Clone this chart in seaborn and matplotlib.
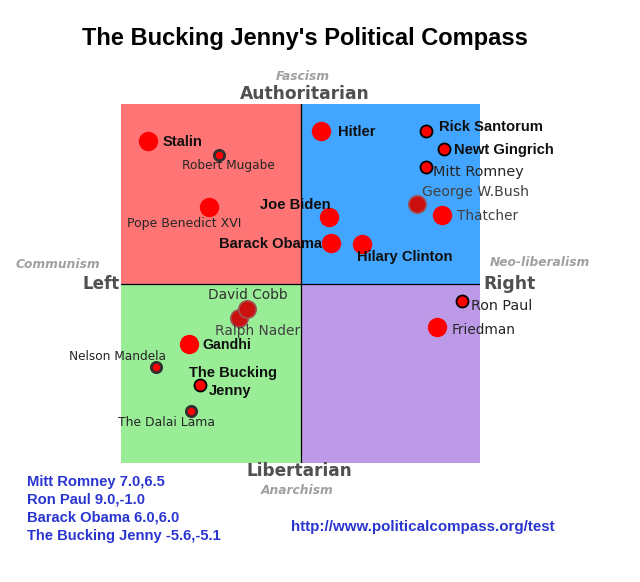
import pandas as pd
import matplotlib.pyplot as plt
import seaborn as sns

plain_names = ['Stalin', 'Pope Benedict XVI', 'Hitler', 'Joe Biden', 'Barack Obama', 'Hilary Clinton', 'Thatcher', 'Friedman', 'Gandhi']
plain_x = [-8.5, -5.1, 1.15, 1.6, 1.7, 3.4, 7.9, 7.6, -6.2]
plain_y = [7.95, 4.25, 8.5, 3.7, 2.25, 2.2, 3.8, -2.4, -3.35]

ringed_names = ['Rick Santorum', 'Newt Gingrich', 'Mitt Romney', 'Ron Paul', 'The Bucking Jenny']
ringed_x = [7.0, 8.0, 7.0, 9.0, -5.6]
ringed_y = [8.5, 7.5, 6.5, -1.0, -5.65]

grey_ring_names = ['Robert Mugabe', 'Nelson Mandela', 'The Dalai Lama']
grey_ring_x = [-4.55, -8.05, -6.1]
grey_ring_y = [7.15, -4.65, -7.1]

dark_names = ['George W.Bush', 'Ralph Nader', 'David Cobb']
dark_x = [6.5, -3.45, -3.0]
dark_y = [4.45, -1.9, -1.4]

score_lines = ['Mitt Romney 7.0,6.5', 'Ron Paul 9.0,-1.0', 'Barack Obama 6.0,6.0', 'The Bucking Jenny -5.6,-5.1']

sns.set_style('white')

W, H = 640, 582
fig = plt.figure(figsize=(W / 100, H / 100), dpi=100)
ax = fig.add_axes([121 / W, (H - 463) / H, 359 / W, 359 / H])
ax.set_xlim(-10, 10)
ax.set_ylim(-10, 10)
ax.axis('off')

# quadrants
ax.axhspan(0, 10, xmin=0, xmax=0.5, color='#ff7575', lw=0)
ax.axhspan(0, 10, xmin=0.5, xmax=1, color='#42a5ff', lw=0)
ax.axhspan(-10, 0, xmin=0, xmax=0.5, color='#9aed97', lw=0)
ax.axhspan(-10, 0, xmin=0.5, xmax=1, color='#bd9ae8', lw=0)
ax.axhline(0, color='black', lw=0.9, zorder=1)
ax.axvline(0, color='black', lw=0.9, zorder=1)

plain = pd.DataFrame({'name': plain_names, 'x': plain_x, 'y': plain_y})
ringed = pd.DataFrame({'name': ringed_names, 'x': ringed_x, 'y': ringed_y})
grey_ring = pd.DataFrame({'name': grey_ring_names, 'x': grey_ring_x, 'y': grey_ring_y})
dark = pd.DataFrame({'name': dark_names, 'x': dark_x, 'y': dark_y})

sns.scatterplot(data=plain, x='x', y='y', ax=ax, s=195, color='#ff0000', linewidth=0, zorder=3)
sns.scatterplot(data=ringed, x='x', y='y', ax=ax, s=75, color='#ff0000', edgecolor='black', linewidth=1.3, zorder=3)
sns.scatterplot(data=grey_ring, x='x', y='y', ax=ax, s=55, color='#ff0000', edgecolor='#303030', linewidth=2, zorder=3)
sns.scatterplot(data=dark, x='x', y='y', ax=ax, s=155, color='#cc1010', edgecolor='#a05050', linewidth=1.2, zorder=3)
ax.set_xlim(-10, 10)
ax.set_ylim(-10, 10)


def label(px, py, text, va='center', **kw):
    # px, py are pixels from the top left of the picture
    fig.text(px / W, 1 - py / H, text, va=va, zorder=5, **kw)


def bold(px, py, text, size=10.6, color='#101010', va='center'):
    label(px, py, text, va=va, family='Liberation Sans', weight='bold', size=size, color=color)


def thin(px, py, text, size=9, color='#252525'):
    label(px, py, text, family='DejaVu Sans', size=size, color=color)


bold(163, 142, 'Stalin')
bold(338, 132, 'Hitler')
bold(439, 127, 'Rick Santorum')
bold(454, 150, 'Newt Gingrich')
bold(260, 205, 'Joe Biden')
bold(219, 244, 'Barack Obama')
bold(357, 257, 'Hilary Clinton')
bold(202, 345, 'Gandhi', size=10.2)
bold(189, 373, 'The Bucking')
bold(209, 391, 'Jenny')

thin(182, 166, 'Robert Mugabe', size=8.7)
thin(127, 224, 'Pope Benedict XVI', size=9)
thin(433, 172, 'Mitt Romney', size=10.4)
thin(422, 192, 'George W.Bush', size=10.1, color='#404040')
thin(457, 216, 'Thatcher', size=9.8, color='#404040')
thin(471, 306, 'Ron Paul', size=10.3)
thin(452, 330, 'Friedman', size=9.8)
thin(208, 295, 'David Cobb', size=9.9, color='#303030')
thin(215, 331, 'Ralph Nader', size=9.9, color='#404040')
thin(69, 356, 'Nelson Mandela', size=8.7)
thin(118, 423, 'The Dalai Lama', size=8.9)

label(305, 39, "The Bucking Jenny's Political Compass", ha='center',
      family='Liberation Sans', weight='bold', size=17, color='black')

label(304.5, 94, 'Authoritarian', ha='center', family='DejaVu Sans', weight='bold', size=12.3, color='#505050')
label(299, 471, 'Libertarian', ha='center', family='DejaVu Sans', weight='bold', size=12.2, color='#505050')
label(82, 284, 'Left', family='DejaVu Sans', weight='bold', size=12, color='#505050')
label(483, 284, 'Right', family='DejaVu Sans', weight='bold', size=12.4, color='#505050')

for px, py, text in [(303, 77, 'Fascism'), (297, 490, 'Anarchism'), (58, 265, 'Communism'), (540, 263, 'Neo-liberalism')]:
    label(px, py, text, ha='center', family='DejaVu Sans', weight='bold', style='italic', size=8.8, color='#a0a0a0')

for py, text in zip([486, 504, 522, 540], score_lines):
    bold(27, py, text, size=10.65, color='#2a35d0', va='baseline')
bold(291, 527, 'http://www.politicalcompass.org/test', size=10.9, color='#2a35d0')

plt.savefig('out.png', dpi=100)
plt.close()
